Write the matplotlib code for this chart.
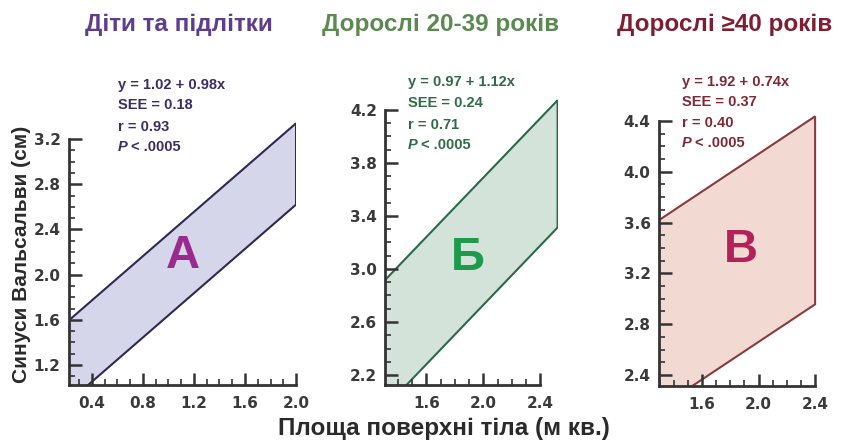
import matplotlib
matplotlib.use('Agg')
import matplotlib.pyplot as plt
import numpy as np
from matplotlib.ticker import FixedLocator

# regression results per age group
groups = ['Діти та підлітки', 'Дорослі 20-39 років', 'Дорослі ≥40 років']
letters = ['А', 'Б', 'В']
intercepts = [1.02, 0.97, 1.92]
slopes = [0.98, 1.12, 0.74]
see_values = [0.18, 0.24, 0.37]
r_values = [0.93, 0.71, 0.40]
bsa_min = [0.15, 1.25, 1.25]
bsa_max = [2.0, 2.52, 2.4]

x_ticks = [[0.4, 0.8, 1.2, 1.6, 2.0], [1.6, 2.0, 2.4], [1.6, 2.0, 2.4]]
y_ticks = [[1.2, 1.6, 2.0, 2.4, 2.8, 3.2],
           [2.2, 2.6, 3.0, 3.4, 3.8, 4.2],
           [2.4, 2.8, 3.2, 3.6, 4.0, 4.4]]

xlims = [(0.22, 2.0), (1.31, 2.52), (1.296, 2.45)]
ylims = [(1.023, 3.4), (2.125, 4.35), (2.313, 4.5)]
positions = [[0.082, 0.131, 0.270, 0.606],
             [0.458, 0.131, 0.205, 0.666],
             [0.7836, 0.1287, 0.194, 0.627]]

title_colors = ['#5e3d8f', '#5a8a50', '#7d1e32']
text_colors = ['#3b2d63', '#2f6b47', '#7e2a36']
fill_colors = ['#d6d6ea', '#d3e3da', '#f2dad2']
edge_colors = ['#2c2a52', '#2a6a48', '#8a3a3e']
letter_colors = ['#9b2a8e', '#1f9a4a', '#b3215a']
letter_pos = [(0.50, 0.48), (0.48, 0.43), (0.50, 0.49)]

title_x = [85, 322, 617]
text_x = [118, 408, 682]
text_y = [[85, 105, 127, 147], [82, 103, 125, 145], [82, 102, 123, 143]]

W, H = 841, 443
sans = ['Liberation Sans', 'DejaVu Sans']
axis_color = '#333333'


def minor_ticks(majors, lo):
    vals = np.round(np.arange(majors[0] - 0.4, majors[-1] + 0.01, 0.1), 2)
    return [v for v in vals if v >= lo and v not in majors]


fig = plt.figure(figsize=(W / 100, H / 100), dpi=100)

for i in range(3):
    ax = fig.add_axes(positions[i])
    xs = np.array([bsa_min[i], bsa_max[i]])
    mean = intercepts[i] + slopes[i] * xs
    band = 2 * see_values[i]
    px = np.concatenate([xs, xs[::-1]])
    py = np.concatenate([mean + band, (mean - band)[::-1]])
    ax.fill(px, py, facecolor=fill_colors[i], edgecolor=edge_colors[i],
            linewidth=1.5, zorder=1)

    ax.set_xlim(*xlims[i])
    ax.set_ylim(*ylims[i])
    ax.set_xticks(x_ticks[i])
    ax.set_yticks(y_ticks[i])
    ax.xaxis.set_minor_locator(FixedLocator(minor_ticks(x_ticks[i], xlims[i][0])))
    ax.yaxis.set_minor_locator(FixedLocator(minor_ticks(y_ticks[i], ylims[i][0])))
    ax.tick_params(which='major', direction='in', length=9, width=1.8,
                   color=axis_color, labelsize=11, labelcolor='#3a3a3a')
    ax.tick_params(axis='x', which='major', pad=8)
    ax.tick_params(axis='y', which='major', pad=6)
    ax.tick_params(which='minor', direction='in', length=4, width=1.2,
                   color=axis_color)
    for lab in ax.get_xticklabels() + ax.get_yticklabels():
        lab.set_fontweight('bold')
        lab.set_family('DejaVu Sans')
    for side in ['top', 'right']:
        ax.spines[side].set_visible(False)
    ax.spines['left'].set_bounds(ylims[i][0], y_ticks[i][-1])
    ax.spines['bottom'].set_bounds(xlims[i][0], x_ticks[i][-1])
    for side in ['left', 'bottom']:
        ax.spines[side].set_linewidth(2)
        ax.spines[side].set_color(axis_color)
    ax.patch.set_alpha(0)

    ax.text(letter_pos[i][0], letter_pos[i][1], letters[i],
            transform=ax.transAxes, ha='center', va='center',
            fontsize=34, fontweight='bold', color=letter_colors[i],
            family=sans)

    fig.text(title_x[i] / W, 1 - 25 / H, groups[i], ha='left', va='center',
             fontsize=17.5, fontweight='bold', color=title_colors[i],
             family=sans)

    lines = ['y = {:.2f} + {:.2f}x'.format(intercepts[i], slopes[i]),
             'SEE = {:.2f}'.format(see_values[i]),
             'r = {:.2f}'.format(r_values[i])]
    for j, line in enumerate(lines):
        fig.text(text_x[i] / W, 1 - text_y[i][j] / H, line, ha='left',
                 va='center', fontsize=10.5, fontweight='bold',
                 color=text_colors[i], family=sans)
    fig.text(text_x[i] / W, 1 - text_y[i][3] / H, 'P',
             ha='left', va='center', fontsize=10.5, fontweight='bold',
             fontstyle='italic', color=text_colors[i], family=sans)
    fig.text((text_x[i] + 13) / W, 1 - text_y[i][3] / H, '< .0005',
             ha='left', va='center', fontsize=10.5, fontweight='bold',
             color=text_colors[i], family=sans)

fig.text(22 / W, 1 - 254 / H, 'Синуси Вальсальви (см)', rotation=90,
         ha='center', va='center', fontsize=15, fontweight='bold',
         color='#2a2a2a', family=sans)
fig.text(444 / W, 1 - 428 / H, 'Площа поверхні тіла (м кв.)',
         ha='center', va='center', fontsize=17.5, fontweight='bold',
         color='#2a2a2a', family=sans)

fig.savefig('out.png', dpi=100)
